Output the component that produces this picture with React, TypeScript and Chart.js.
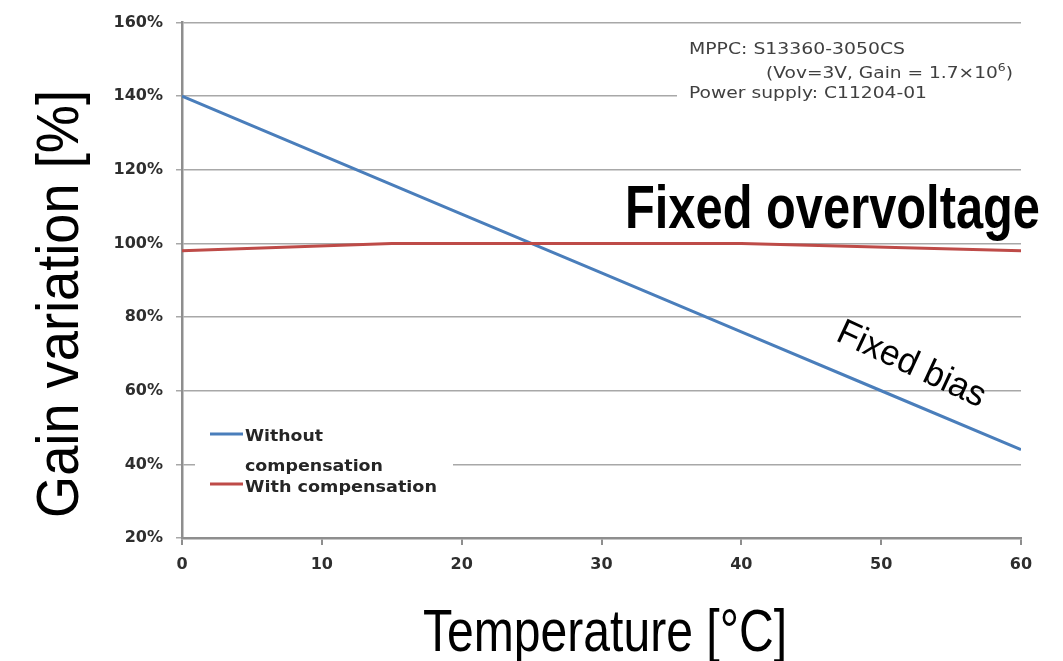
import React, { useEffect, useRef } from "react";
import { Chart, registerables } from "chart.js";

Chart.register(...registerables);

// ---- data ----
const temperatures = [0, 10, 20, 30, 40, 50, 60];
const withoutCompensation = [140, 124, 108, 92, 76, 60, 44];
const withTemperatures = [0, 15, 25, 40, 60];
const withCompensation = [98, 100, 100, 100, 98];
const xTickValues = [0, 10, 20, 30, 40, 50, 60];
const yTickValues = [20, 40, 60, 80, 100, 120, 140, 160];
const seriesLabels = ["Without compensation", "With compensation"];
const legendLines = [["Without", "compensation"], ["With compensation"]];
const xTitle = "Temperature [°C]";
const yTitle = "Gain variation [%]";
const noteLines = ["MPPC: S13360-3050CS", "(Vov=3V, Gain = 1.7×10", "6", ")", "Power supply: C11204-01"];
const headline = "Fixed overvoltage";
const lineNote = "Fixed bias";

const BLUE = "#4a7ebb";
const RED = "#be4b48";
const GRID = "#a8a8a8";
const AXIS = "#8e8e8e";
const TICK_COLOR = "#2e2e2e";
const TICK_FONT = { family: "'DejaVu Sans', Verdana, sans-serif", size: 16, weight: "bold" as const };

function drawFit(
  ctx: CanvasRenderingContext2D,
  text: string,
  x: number,
  y: number,
  width: number,
  font: string,
  align: CanvasTextAlign,
  color: string
) {
  ctx.save();
  ctx.font = font;
  const m = ctx.measureText(text).width;
  const s = width / m;
  ctx.translate(x, y);
  ctx.scale(s, 1);
  ctx.textAlign = align;
  ctx.textBaseline = "alphabetic";
  ctx.fillStyle = color;
  ctx.fillText(text, 0, 0);
  ctx.restore();
}

const overlayPlugin = {
  id: "overlay",
  beforeDatasetsDraw(chart: any) {
    const ctx: CanvasRenderingContext2D = chart.ctx;
    ctx.save();
    ctx.fillStyle = "#ffffff";
    // note box and legend box hide the grid lines behind them
    ctx.fillRect(677, 30, 346, 76);
    ctx.fillRect(195, 424, 258, 76);
    ctx.restore();
  },
  afterDraw(chart: any) {
    const ctx: CanvasRenderingContext2D = chart.ctx;
    const sans = "'Liberation Sans', Arial, sans-serif";
    const dv = "'DejaVu Sans', Verdana, sans-serif";
    const noteColor = "#404040";

    // note text
    drawFit(ctx, noteLines[0], 689, 54, 216, `15px ${dv}`, "left", noteColor);
    {
      const big = `15px ${dv}`;
      const small = `10px ${dv}`;
      ctx.save();
      ctx.font = big;
      const w1 = ctx.measureText(noteLines[1]).width;
      const w3 = ctx.measureText(noteLines[3]).width;
      ctx.font = small;
      const w2 = ctx.measureText(noteLines[2]).width;
      const s = 247 / (w1 + w2 + w3);
      ctx.translate(766, 78);
      ctx.scale(s, 1);
      ctx.fillStyle = noteColor;
      ctx.textAlign = "left";
      ctx.textBaseline = "alphabetic";
      ctx.font = big;
      ctx.fillText(noteLines[1], 0, 0);
      ctx.font = small;
      ctx.fillText(noteLines[2], w1, -7);
      ctx.font = big;
      ctx.fillText(noteLines[3], w1 + w2, 0);
      ctx.restore();
    }
    drawFit(ctx, noteLines[4], 689, 98, 238, `15px ${dv}`, "left", noteColor);

    // legend
    ctx.save();
    ctx.lineWidth = 3;
    ctx.strokeStyle = BLUE;
    ctx.beginPath();
    ctx.moveTo(210, 434);
    ctx.lineTo(243, 434);
    ctx.stroke();
    ctx.strokeStyle = RED;
    ctx.beginPath();
    ctx.moveTo(210, 484);
    ctx.lineTo(243, 484);
    ctx.stroke();
    ctx.restore();
    drawFit(ctx, legendLines[0][0], 245, 441, 78, `bold 16px ${dv}`, "left", "#262626");
    drawFit(ctx, legendLines[0][1], 245, 471, 138, `bold 16px ${dv}`, "left", "#262626");
    drawFit(ctx, legendLines[1][0], 245, 492, 192, `bold 16px ${dv}`, "left", "#262626");

    // headline
    drawFit(ctx, headline, 625, 228, 415, `bold 61px ${sans}`, "left", "#000000");

    // line note, rotated
    ctx.save();
    ctx.translate(912, 363);
    ctx.rotate((25 * Math.PI) / 180);
    drawFit(ctx, lineNote, 0, 12, 160, `36px ${sans}`, "center", "#000000");
    ctx.restore();

    // axis titles
    drawFit(ctx, xTitle, 605, 651, 364, `60px ${sans}`, "center", "#000000");
    ctx.save();
    ctx.translate(78, 304);
    ctx.rotate(-Math.PI / 2);
    drawFit(ctx, yTitle, 0, 0, 428, `60px ${sans}`, "center", "#000000");
    ctx.restore();
  },
};

export default function App() {
  const canvasRef = useRef<HTMLCanvasElement | null>(null);

  useEffect(() => {
    if (!canvasRef.current) return;
    const chart = new Chart(canvasRef.current, {
      type: "line",
      data: {
        datasets: [
          {
            label: seriesLabels[0],
            data: temperatures.map((t, i) => ({ x: t, y: withoutCompensation[i] })),
            borderColor: BLUE,
            backgroundColor: BLUE,
            borderWidth: 3,
            pointRadius: 0,
            tension: 0,
            order: 2,
          },
          {
            label: seriesLabels[1],
            data: withTemperatures.map((t, i) => ({ x: t, y: withCompensation[i] })),
            borderColor: RED,
            backgroundColor: RED,
            borderWidth: 3,
            pointRadius: 0,
            tension: 0,
            order: 1,
          },
        ],
      },
      options: {
        animation: false,
        responsive: false,
        layout: { autoPadding: false, padding: { top: 19, right: 42, left: 0, bottom: 0 } },
        plugins: {
          legend: { display: false },
          tooltip: { enabled: false },
          title: { display: false },
        },
        scales: {
          x: {
            type: "linear",
            min: 0,
            max: 60,
            afterBuildTicks: (scale: any) => {
              scale.ticks = xTickValues.map((v) => ({ value: v }));
            },
            afterFit: (scale: any) => {
              scale.height = 123;
            },
            grid: { drawOnChartArea: false, drawTicks: true, tickLength: 7, color: AXIS, lineWidth: 2 },
            border: { color: AXIS, width: 2.5 },
            ticks: { font: TICK_FONT, color: TICK_COLOR, padding: 10, maxRotation: 0, autoSkip: false },
          },
          y: {
            type: "linear",
            min: 20,
            max: 160,
            afterBuildTicks: (scale: any) => {
              scale.ticks = yTickValues.map((v) => ({ value: v }));
            },
            afterFit: (scale: any) => {
              scale.width = 182;
            },
            grid: { color: GRID, lineWidth: 1.5, tickLength: 6, drawTicks: true },
            border: { color: AXIS, width: 2.5 },
            ticks: {
              font: TICK_FONT,
              color: TICK_COLOR,
              padding: 13,
              autoSkip: false,
              callback: (v: any) => `${v}%`,
            },
          },
        },
      },
      plugins: [overlayPlugin],
    } as any);
    return () => chart.destroy();
  }, []);

  return (
    <div style={{ position: "absolute", left: 0, top: 0, width: 1063, height: 661, background: "#fff" }}>
      <canvas ref={canvasRef} width={1063} height={661} style={{ display: "block" }} />
    </div>
  );
}
